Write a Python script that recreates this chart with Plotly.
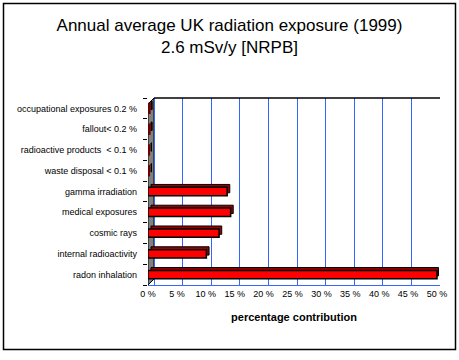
import plotly.graph_objects as go

categories = ["radon inhalation", "internal radioactivity", "cosmic rays",
              "medical exposures", "gamma irradiation", "waste disposal < 0.1 %",
              "radioactive products  < 0.1 %", "fallout< 0.2 %", "occupational exposures 0.2 %"]
values = [50.0, 10.1, 12.3, 14.3, 13.7, 0.1, 0.1, 0.2, 0.2]
tick_vals = [0, 5, 10, 15, 20, 25, 30, 35, 40, 45, 50]
tick_text = ["0 %", "5 %", "10 %", "15 %", "20 %", "25 %", "30 %", "35 %", "40 %", "45 %", "50 %"]

FONT = "Arial, Liberation Sans, sans-serif"
front_colors = ["#ff0000" if v >= 1 else "#800000" for v in values]
front_line_colors = ["black" if v >= 1 else "#6a0000" for v in values]
front_line_widths = [1.5 if v >= 1 else 3 for v in values]
side_colors = ["#990000" if v >= 1 else "#600000" for v in values]

fig = go.Figure()
# 3D extrusion (back copy)
fig.add_trace(go.Bar(y=categories, x=values, orientation="h", xaxis="x2", yaxis="y",
                     marker=dict(color=side_colors, line=dict(color="black", width=1)),
                     width=0.4, offset=-0.06, hoverinfo="skip", showlegend=False))
# front faces
fig.add_trace(go.Bar(y=categories, x=values, orientation="h", xaxis="x3", yaxis="y",
                     marker=dict(color=front_colors,
                                 line=dict(color=front_line_colors, width=front_line_widths)),
                     width=0.4, offset=-0.2, showlegend=False))

# plot area pixels: x 148..440, y 98..285
L, R, T, B = 148, 440, 98, 285
W, H = R - L, B - T
def px(x): return (x - L) / W
def py(y): return (B - y) / H

fig.update_layout(
    width=459, height=360,
    margin=dict(l=L, r=459 - R, t=T, b=360 - B),
    paper_bgcolor="white", plot_bgcolor="white",
    font=dict(family=FONT, size=9, color="black"),
    title=dict(text="Annual average UK radiation exposure (1999)<br>2.6 mSv/y [NRPB]",
               x=0.5, xanchor="center", y=1 - 31 / 360, yanchor="top",
               font=dict(family=FONT, size=17, color="black")),
    xaxis=dict(range=[-1.05, 50], showgrid=True, gridcolor="#3366ff", gridwidth=1,
               tickvals=tick_vals, showticklabels=False, ticks="", zeroline=False,
               showline=False),
    xaxis2=dict(overlaying="x", range=[-0.52, 50.26], showgrid=False, showticklabels=False,
                ticks="", zeroline=False, showline=False),
    xaxis3=dict(overlaying="x", range=[0, 50.52], showgrid=False, zeroline=False,
                tickvals=tick_vals, ticktext=tick_text, ticks="",
                showline=True, linecolor="#3366ff", linewidth=1,
                tickfont=dict(family=FONT, size=9, color="black"),
                title=dict(text="<b>percentage contribution</b>", standoff=15,
                           font=dict(family=FONT, size=11, color="black"))),
    yaxis=dict(type="category", categoryorder="array", categoryarray=categories,
               tickson="boundaries", ticks="outside", ticklen=4, tickcolor="black",
               showgrid=False, zeroline=False, showline=False, ticklabelstandoff=10,
               tickfont=dict(family=FONT, size=9, color="black"),
               range=[-0.5, 8.5]),
    shapes=[
        # left side wall
        dict(type="path", xref="x", yref="y", layer="below",
             path="M -1.05,-0.5 L -1.05,8.21 L 0,8.5 L 0,-0.21 Z",
             fillcolor="#808080", line=dict(color="black", width=1)),
        # top edge of back wall
        dict(type="line", xref="x", yref="paper", x0=0, x1=50, y0=1, y1=1,
             line=dict(color="black", width=1.5)),
        # outer chart border
        dict(type="rect", xref="paper", yref="paper",
             x0=px(3.5), x1=px(455.5), y0=py(349.5), y1=py(3.5),
             line=dict(color="black", width=1.5), fillcolor="rgba(0,0,0,0)"),
    ],
)

fig.write_html("out.html", config={"displayModeBar": False},
               post_script="document.body.style.margin='0px';document.body.style.overflow='hidden';")
